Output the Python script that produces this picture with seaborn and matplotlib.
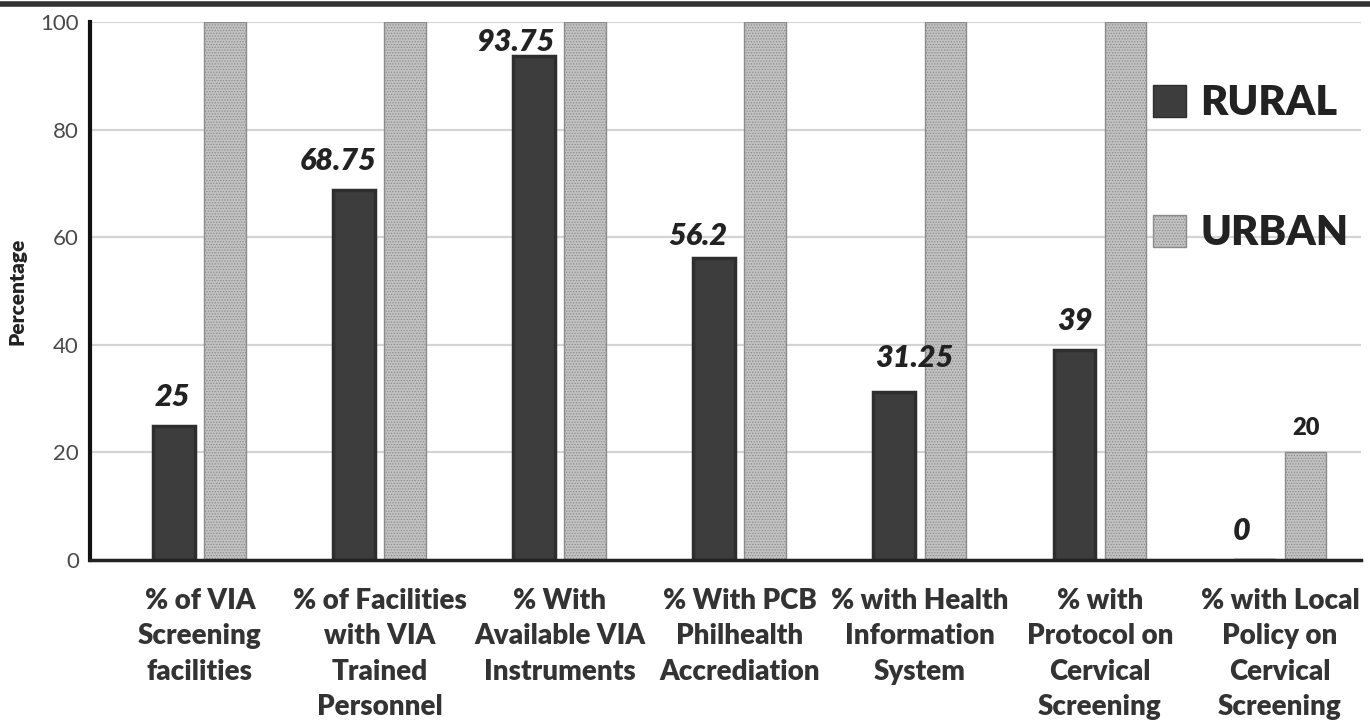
import matplotlib
matplotlib.use("Agg")
import matplotlib.pyplot as plt
import pandas as pd
import seaborn as sns
from matplotlib.lines import Line2D
from matplotlib.patches import Patch

categories = [
    "% of VIA\nScreening\nfacilities",
    "% of Facilities\nwith VIA\nTrained\nPersonnel",
    "% With\nAvailable VIA\nInstruments",
    "% With PCB\nPhilhealth\nAccrediation",
    "% with Health\nInformation\nSystem",
    "% with\nProtocol on\nCervical\nScreening",
    "% with Local\nPolicy on\nCervical\nScreening",
]
rural = [25, 68.75, 93.75, 56.2, 31.25, 39, 0]
urban = [100, 100, 100, 100, 100, 100, 20]
rural_labels = ["25", "68.75", "93.75", "56.2", "31.25", "39", "0"]
urban_labels = ["", "", "", "", "", "", "20"]
groups = ["RURAL", "URBAN"]
yticks = [0, 20, 40, 60, 80, 100]

# pixel nudges for the rural value labels (dx, gap above bar)
rural_label_nudge = [(-2, 15), (-16, 15), (-19, 0), (-16, 8), (20, 20), (0, 15), (-13, 15)]

df = pd.DataFrame({
    "category": categories * 2,
    "value": rural + urban,
    "area": [groups[0]] * len(categories) + [groups[1]] * len(categories),
})

sns.set_theme(style="white")
plt.rcParams["font.family"] = ["Lato", "DejaVu Sans"]
plt.rcParams["hatch.color"] = "#9a9a9a"
plt.rcParams["hatch.linewidth"] = 0.6

fig = plt.figure(figsize=(13.7, 7.21), dpi=100)
ax = fig.add_axes([90 / 1370, 1 - 560 / 721, (1361 - 90) / 1370, (560 - 22) / 721])

rural_color = "#3d3d3d"
urban_color = "#c2c2c2"

sns.barplot(
    data=df, x="category", y="value", hue="area", hue_order=groups,
    palette=[rural_color, urban_color], width=0.567, gap=0.18,
    dodge=True, legend=False, ax=ax, saturation=1,
)

rural_bars = ax.containers[0]
urban_bars = ax.containers[1]
for p in rural_bars:
    p.set_edgecolor("#2e2e2e")
    p.set_linewidth(2.5)
for p in urban_bars:
    p.set_facecolor(urban_color)
    p.set_edgecolor("#8c8c8c")
    p.set_hatch("......")
    p.set_linewidth(1.0)

label_font = dict(fontsize=22, fontweight="heavy", fontstyle="italic", color="#222222")
for p, text, (dx, gap) in zip(rural_bars, rural_labels, rural_label_nudge):
    ax.annotate(text, (p.get_x() + p.get_width() / 2, p.get_height()),
                xytext=(dx, gap), textcoords="offset pixels",
                ha="center", va="bottom", **label_font)
ax.bar_label(urban_bars, labels=urban_labels, padding=10, fontsize=17,
             fontweight="heavy", color="#222222")

ax.set_ylim(0, 100)
ax.set_xlim(-0.61, 6.45)
ax.set_yticks(yticks)
ax.set_yticklabels([str(t) for t in yticks], fontsize=16, color="#4a4a4a")
ax.yaxis.grid(True, color="#d4d4d4", linewidth=1.6)
ax.set_axisbelow(True)
ax.tick_params(axis="both", length=0, pad=8)
ax.set_xticks(range(len(categories)))
ax.set_xticklabels(categories, fontsize=20, fontweight="heavy", color="#333333",
                   linespacing=1.45)
ax.tick_params(axis="x", pad=20)
ax.set_xlabel("")
ax.set_ylabel("Percentage", fontsize=15, fontweight="heavy", color="#222222", labelpad=10)

for side in ["top", "right"]:
    ax.spines[side].set_visible(False)
ax.spines["left"].set_color("#111111")
ax.spines["left"].set_linewidth(3)
ax.spines["bottom"].set_color("#222222")
ax.spines["bottom"].set_linewidth(2.5)

handles = [
    Patch(facecolor=rural_color, edgecolor="#2e2e2e"),
    Patch(facecolor=urban_color, edgecolor="#8c8c8c", hatch="......"),
]
leg = ax.legend(handles, groups, loc="upper left", bbox_to_anchor=(0.823, 0.915),
                frameon=False, prop={"family": "Lato", "weight": "heavy", "size": 30},
                handlelength=0.8, handleheight=0.8, handletextpad=0.35,
                labelspacing=2.2, borderaxespad=0)
for t in leg.get_texts():
    t.set_color("#222222")

# dark rule across the top edge
fig.add_artist(Line2D([0, 1], [1 - 4 / 721, 1 - 4 / 721], color="#333333",
                      linewidth=4, transform=fig.transFigure))

fig.savefig("out.png", dpi=100, facecolor="white")
